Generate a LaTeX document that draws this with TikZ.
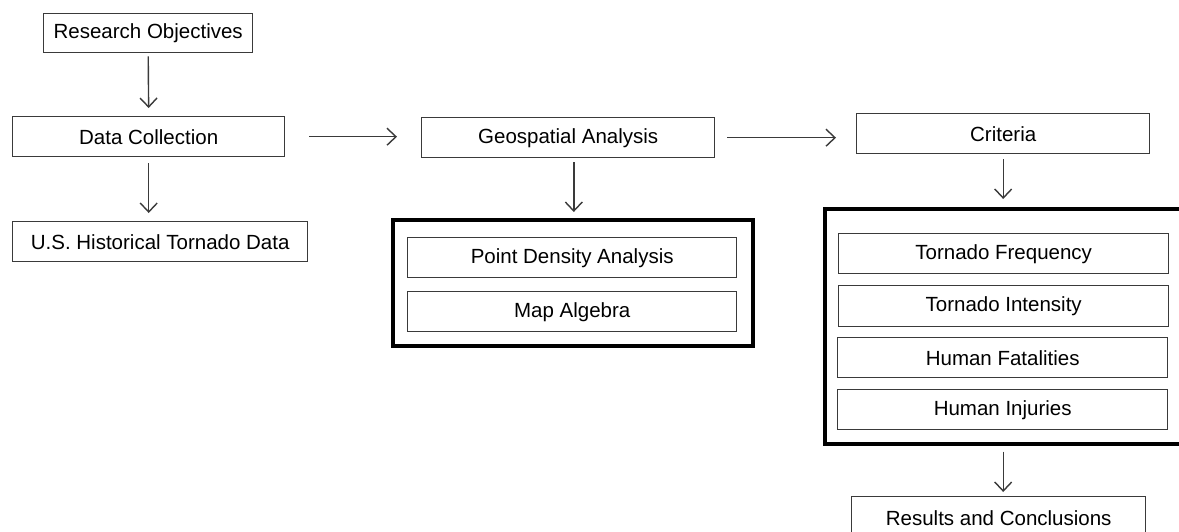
\documentclass[tikz,border=0pt]{standalone}
\usepackage{fontspec}
\setmainfont{Liberation Sans}
\usetikzlibrary{arrows.meta}
\definecolor{edge}{HTML}{3A3A3A}
\tikzset{
  box/.style={draw=edge, line width=1.4pt, anchor=north west, inner sep=0pt,
    font=\fontsize{20.5}{24}\selectfont, text=black},
  frame/.style={draw=black, line width=3.6pt, anchor=north west, inner sep=0pt},
  arr/.style={draw=edge, line width=1.4pt, -{Straight Barb[length=9pt,width=17pt,line width=1.4pt]}}
}
\begin{document}
\begin{tikzpicture}[x=1pt,y=-1pt]
\useasboundingbox (0,0) rectangle (1179,531);
\fill[white] (0,0) rectangle (1179,531);
\clip (0,0) rectangle (1179,531);
% left column
\node[box, minimum width=209pt, minimum height=39pt] (ro) at (43,13) {Research Objectives};
\node[box, minimum width=272pt, minimum height=40pt] (dc) at (12,116) {Data Collection};
\node[box, minimum width=295pt, minimum height=40pt] (us) at (12,221) {U.S. Historical Tornado Data};
% middle column
\node[box, minimum width=293pt, minimum height=40pt] (ga) at (421,117) {Geospatial Analysis};
\node[frame, minimum width=360pt, minimum height=126pt] (o1) at (391,218) {};
\node[box, minimum width=329pt, minimum height=40pt] (pd) at (407,237) {Point Density Analysis};
\node[box, minimum width=329pt, minimum height=40pt] (ma) at (407,291) {Map Algebra};
% right column
\node[box, minimum width=293pt, minimum height=40pt] (cr) at (856,113) {Criteria};
\node[frame, minimum width=357pt, minimum height=235pt] (o2) at (823,207) {};
\node[box, minimum width=330pt, minimum height=40pt] (tf) at (838,233) {Tornado Frequency};
\node[box, minimum width=330pt, minimum height=41pt] (ti) at (838,285) {Tornado Intensity};
\node[box, minimum width=330pt, minimum height=40pt] (hf) at (837,337) {Human Fatalities};
\node[box, minimum width=330pt, minimum height=40pt] (hi) at (837,389) {Human Injuries};
\node[box, minimum width=294pt, minimum height=45pt, text depth=0pt] (rc) at (851,496) {\raisebox{3pt}{Results and Conclusions}};
% connectors
\draw[arr, shorten <=3pt, shorten >=8pt] (ro.south) -- (dc.north);
\draw[arr, shorten <=6pt, shorten >=8pt] (dc.south) -- (dc.south |- us.north);
\draw[arr, shorten <=24pt, shorten >=24pt] (dc.east) -- (dc.east -| ga.west);
\draw[arr, shorten <=12pt, shorten >=20pt] (ga.east) -- (ga.east -| cr.west);
\draw[arr, shorten <=4pt, shorten >=6pt] (ga.south -| o1.north) ++(1,0) -- ([xshift=1pt]o1.north);
\draw[arr, shorten <=5pt, shorten >=8pt] (cr.south) -- (cr.south |- o2.north);
\draw[arr, shorten <=6pt, shorten >=4pt] (o2.south -| cr.south) -- (cr.south |- rc.north);
\end{tikzpicture}
\end{document}
